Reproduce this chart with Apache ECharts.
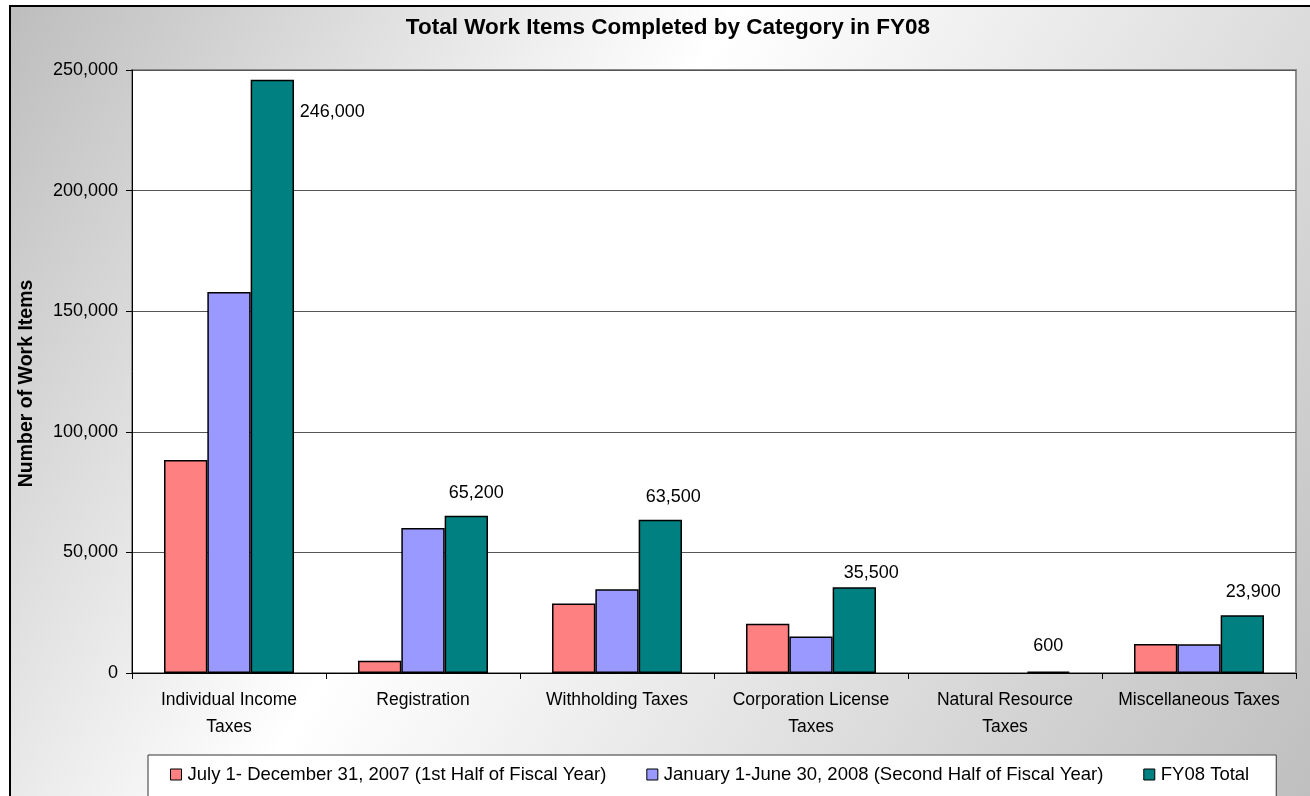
<!DOCTYPE html>
<html>
<head>
<meta charset="utf-8">
<script src="https://cdn.jsdelivr.net/npm/echarts@6/dist/echarts.min.js"></script>
<style>
  html, body { margin: 0; padding: 0; background: #ffffff; }
  #chart { width: 1310px; height: 796px; }
</style>
</head>
<body>
<div id="chart"></div>
<script>
// Work items completed per tax category, FY08
const categories = [
  'Individual Income\nTaxes',
  'Registration',
  'Withholding Taxes',
  'Corporation License\nTaxes',
  'Natural Resource\nTaxes',
  'Miscellaneous Taxes'
];
const seriesNames = [
  'July 1- December 31, 2007 (1st Half of Fiscal Year)',
  'January 1-June 30, 2008 (Second Half of Fiscal Year)',
  'FY08 Total'
];
const firstHalf  = [88300, 5100, 28800, 20400, null, 12000];
const secondHalf = [158000, 60100, 34700, 15100, null, 11900];
const fy08Total  = [246000, 65200, 63500, 35500, 600, 23900];
const yTicks = [0, 50000, 100000, 150000, 200000, 250000];

// Styling
const FONT = "'Liberation Sans', Arial, sans-serif";
const colors = ['#FF8080', '#9999FF', '#008080'];
// small horizontal/vertical nudges for the total labels
const labelNudge = [null, [10, 0], [13, 0], [17, 9], [0, -2], [11, 0]];

const fmt = v => Number(v).toLocaleString('en-US');

const totalData = fy08Total.map((v, i) => {
  if (i === 0) {
    return {
      value: v,
      label: { show: true, position: [49, 32], align: 'left', verticalAlign: 'middle' }
    };
  }
  return { value: v, label: { show: true, position: 'top', distance: 14, offset: labelNudge[i] } };
});

const barBase = {
  type: 'bar',
  barGap: '0%',
  barCategoryGap: '33%'
};

const chart = echarts.init(document.getElementById('chart'), null, { renderer: 'canvas' });

chart.setOption({
  animation: false,
  textStyle: { fontFamily: FONT },
  graphic: {
    z: -10,
    elements: [{
      type: 'rect',
      z: -10,
      silent: true,
      shape: { x: 10, y: 6, width: 1320, height: 810 },
      style: {
        fill: new echarts.graphic.LinearGradient(0, 0, 1, 1, [
          { offset: 0, color: '#bdbdbd' },
          { offset: 0.4, color: '#ffffff' },
          { offset: 1, color: '#bdbdbd' }
        ]),
        stroke: '#000000',
        lineWidth: 2
      }
    }]
  },
  title: {
    text: 'Total Work Items Completed by Category in FY08',
    left: 668,
    textAlign: 'center',
    top: 16,
    padding: 0,
    textStyle: { fontFamily: FONT, fontSize: 22.5, fontWeight: 'bold', color: '#000000' }
  },
  grid: {
    left: 132, right: 14, top: 70, bottom: 123,
    show: true,
    backgroundColor: '#ffffff',
    borderColor: '#8c8c8c',
    borderWidth: 2
  },
  legend: {
    left: 148,
    top: 755,
    padding: [10, 27, 30, 22],
    itemGap: 40,
    itemWidth: 11,
    itemHeight: 11,
    icon: 'rect',
    backgroundColor: '#ffffff',
    borderColor: '#333333',
    borderWidth: 1,
    borderRadius: 0,
    itemStyle: { borderColor: '#000000', borderWidth: 1 },
    textStyle: { fontFamily: FONT, fontSize: 18.5, color: '#000000', padding: [0, 0, 0, 1] },
    data: seriesNames
  },
  xAxis: {
    type: 'category',
    data: categories,
    axisLine: { show: true, lineStyle: { color: '#000000', width: 1 } },
    axisTick: { show: true, length: 6, alignWithLabel: false, lineStyle: { color: '#000000' } },
    axisLabel: {
      margin: 14,
      fontFamily: FONT,
      fontSize: 17.5,
      lineHeight: 27,
      color: '#000000',
      interval: 0
    }
  },
  yAxis: {
    type: 'value',
    min: yTicks[0],
    max: yTicks[yTicks.length - 1],
    interval: yTicks[1] - yTicks[0],
    name: 'Number of Work Items',
    nameLocation: 'middle',
    nameRotate: 90,
    nameGap: 95,
    nameTextStyle: {
      fontFamily: FONT, fontSize: 19.5, fontWeight: 'bold', color: '#000000',
      padding: [0, 24, 0, 0]
    },
    axisLine: { show: true, lineStyle: { color: '#000000', width: 1 } },
    axisTick: { show: true, length: 6, inside: false, lineStyle: { color: '#000000' } },
    axisLabel: { margin: 14, fontFamily: FONT, fontSize: 18, color: '#000000', formatter: fmt },
    splitLine: { show: true, lineStyle: { color: '#555555', width: 1 } }
  },
  series: [
    Object.assign({}, barBase, {
      name: seriesNames[0],
      data: firstHalf,
      itemStyle: { color: colors[0], borderColor: '#000000', borderWidth: 1.5 }
    }),
    Object.assign({}, barBase, {
      name: seriesNames[1],
      data: secondHalf,
      itemStyle: { color: colors[1], borderColor: '#000000', borderWidth: 1.5 }
    }),
    Object.assign({}, barBase, {
      name: seriesNames[2],
      data: totalData,
      itemStyle: { color: colors[2], borderColor: '#000000', borderWidth: 1.5 },
      label: {
        fontFamily: FONT,
        fontSize: 18,
        color: '#000000',
        formatter: p => fmt(p.value)
      }
    })
  ]
});
</script>
</body>
</html>
